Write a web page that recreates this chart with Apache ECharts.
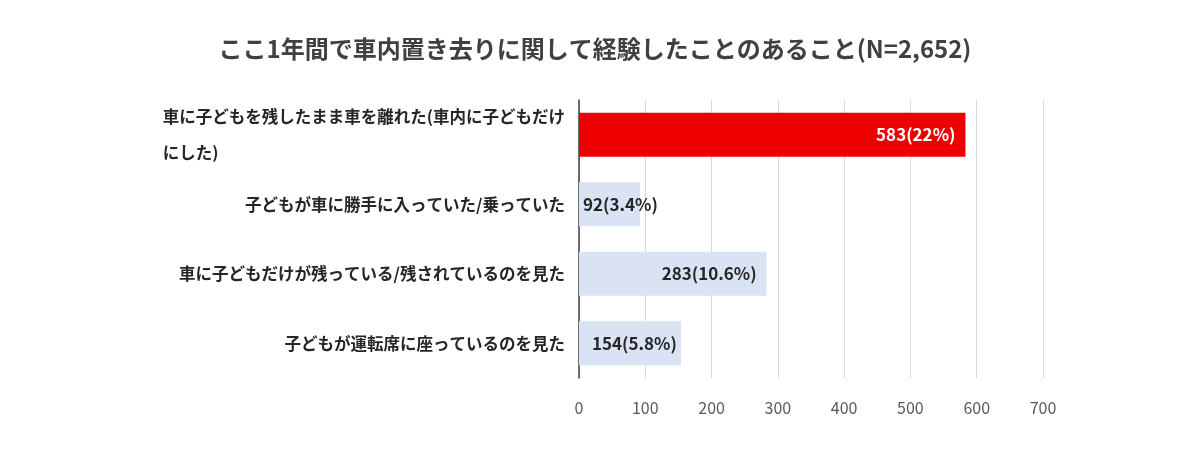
<!DOCTYPE html>
<html><head><meta charset="utf-8">
<script src="https://cdn.jsdelivr.net/npm/echarts@6/dist/echarts.min.js"></script>
<style>html,body{margin:0;background:#fff}#c{width:1200px;height:461px}</style>
</head><body><div id="c"></div>
<script>
var categories = ['車に子どもを残したまま車を離れた(車内に子どもだけ\nにした)', '子どもが車に勝手に入っていた/乗っていた', '車に子どもだけが残っている/残されているのを見た', '子どもが運転席に座っているのを見た']
var values = [583, 92, 283, 154]
var labels = ['583(22%)', '92(3.4%)', '283(10.6%)', '154(5.8%)']
var font = "'Noto Sans CJK JP', sans-serif"

var chart = echarts.init(document.getElementById('c'))
chart.setOption({
  title: {
    text: 'ここ1年間で車内置き去りに関して経験したことのあること(N=2,652)',
    left: 590, top: 32, textAlign: 'center',
    textStyle: { fontFamily: font, fontSize: 24, fontWeight: 'bold', color: '#404040' }
  },
  grid: { left: 579, right: 157, top: 100, bottom: 83 },
  xAxis: {
    type: 'value', min: 0, max: 700, interval: 100,
    axisLine: { show: false }, axisTick: { show: false },
    splitLine: { lineStyle: { color: '#d9d9d9' } },
    axisLabel: { color: '#595959', fontSize: 16, fontFamily: font, margin: 22 }
  },
  yAxis: {
    type: 'category', inverse: true, data: categories,
    axisLine: { lineStyle: { color: '#404040', width: 1.5 } }, axisTick: { show: false },
    axisLabel: {
      color: '#262626', fontSize: 16.5, fontWeight: 'bold', fontFamily: font, margin: 14, lineHeight: 34,
      formatter: function (v) {
        if (v.indexOf('\n') < 0) return v
        var p = v.split('\n')
        return '{a|' + p[0] + '}\n{a|' + p[1] + '}'
      },
      rich: { a: { align: 'left', fontSize: 16.5, fontWeight: 'bold', color: '#262626', fontFamily: font, lineHeight: 36 } }
    }
  },
  series: [{
    type: 'bar', barWidth: 44,
    data: values.map(function (v, i) {
      var d = { value: v, itemStyle: { color: i === 0 ? '#ee0000' : '#dae3f3' } }
      if (i === 0) d.label = { color: '#fff' }
      if (v < 200) d.label = { position: 'insideLeft', distance: i === 1 ? 4 : 13 }
      return d
    }),
    label: {
      show: true, position: 'insideRight', distance: 10,
      fontFamily: font, fontSize: 17, fontWeight: 'bold',
      formatter: function (p) { return labels[p.dataIndex] },
      color: '#262626'
    }
  }]
})
</script></body></html>
